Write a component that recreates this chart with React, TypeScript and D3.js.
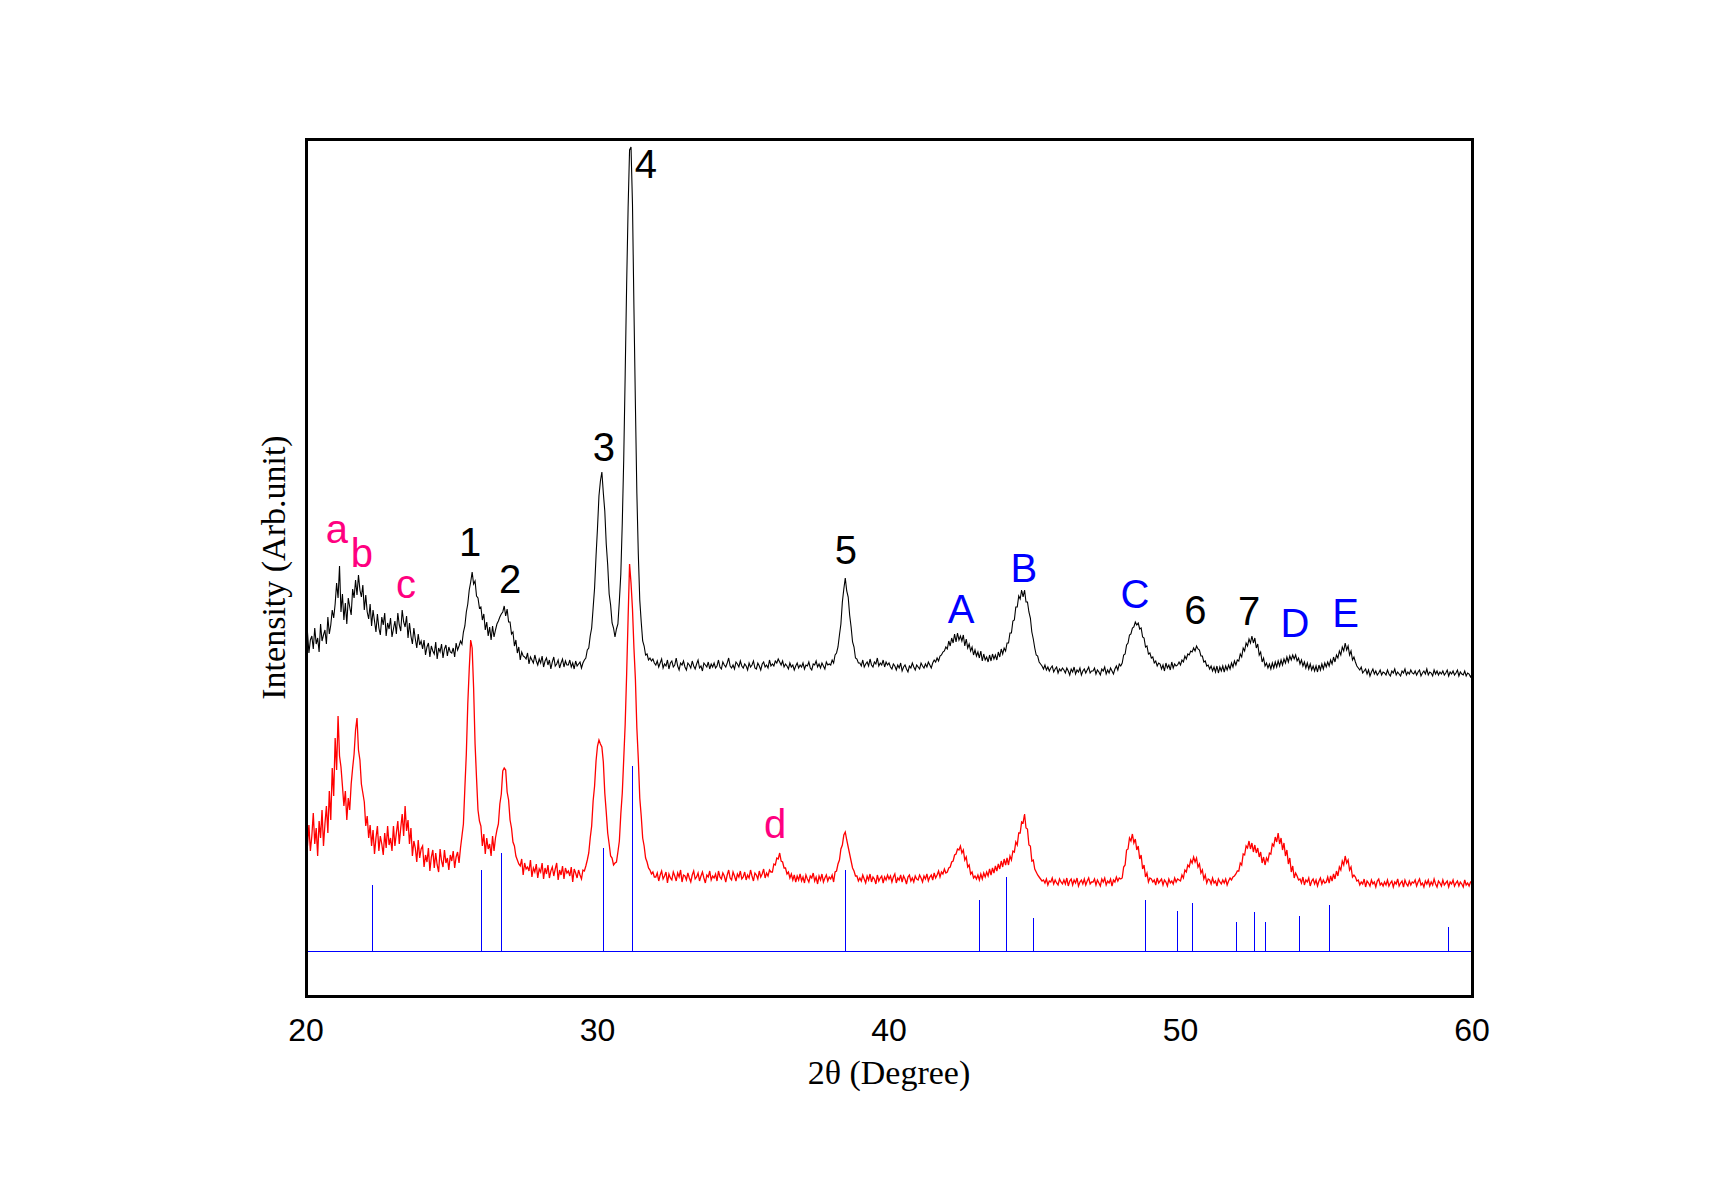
import React from 'react';
import * as d3 from 'd3';

// XRD scans, one row per degree of 2θ starting at 20°, 0.05° per sample
const ANGLE_START = 20;
const ANGLE_STEP = 0.05;

// upper scan (black)
const upperRows: number[][] = [
  [350,364,343,356,360,347,368,352,358,344,372,355,361,366,352,379,362,371,386,378],
  [392,413,398,430,384,402,376,393,372,398,389,381,407,398,416,401,421,406,399,411],
  [386,401,384,377,392,370,386,375,364,382,368,361,379,371,383,360,373,367,378,359],
  [367,375,362,383,371,365,386,374,369,380,358,373,360,352,368,357,348,362,351,355],
  [347,356,341,349,353,339,350,345,342,354,337,348,344,352,338,347,351,340,349,344],
  [343,348,339,353,346,350,355,352,364,370,384,392,406,414,424,412,415,400,398,388],
  [389,376,382,366,374,360,369,356,370,359,366,372,375,379,382,384,390,380,387,374],
  [374,362,364,350,356,343,349,336,344,340,339,337,343,332,339,336,333,341,335,331],
  [337,333,340,329,335,338,331,336,327,334,339,330,332,336,328,333,337,329,335,331],
  [331,336,329,333,327,335,330,332,334,328,333,336,338,346,348,360,368,388,408,440],
  [468,500,515,524,503,485,452,431,402,391,373,368,359,367,372,395,422,473,537,622],
  [712,788,846,849,792,688,592,503,442,396,374,355,350,341,342,336,338,335,337,333],
  [331,335,329,333,337,328,332,330,336,327,333,335,329,331,338,330,326,333,331,335],
  [329,326,333,331,328,335,330,327,332,336,328,330,325,333,331,329,334,327,332,329],
  [333,328,330,336,329,327,334,331,329,333,338,330,328,331,327,334,332,329,335,330],
  [328,332,330,326,333,329,331,335,328,327,333,330,326,332,334,329,331,328,336,330],
  [332,330,335,333,337,334,331,335,329,332,330,327,333,329,331,326,330,333,328,331],
  [329,333,327,331,330,334,328,326,332,331,335,329,332,328,333,330,327,334,331,332],
  [331,336,333,341,343,349,361,372,394,407,418,405,399,381,369,354,349,338,337,333],
  [333,330,336,329,332,334,330,337,331,329,334,332,338,330,333,331,336,329,334,331],
  [333,329,327,332,330,326,331,328,333,325,329,331,327,324,330,328,333,329,326,331],
  [329,327,333,330,328,332,329,334,331,328,333,336,334,338,335,340,341,344,345,349],
  [347,355,350,358,353,362,354,363,356,360,355,361,350,357,348,352,345,349,341,346],
  [340,344,338,345,335,342,336,339,334,341,335,342,337,341,336,344,339,347,342,348],
  [345,353,353,363,363,375,376,389,389,400,397,406,399,406,394,394,384,378,364,357],
  [348,341,340,334,332,330,327,331,326,329,325,328,330,324,327,329,323,327,325,328],
  [326,323,328,325,321,327,324,329,322,326,324,328,321,325,327,323,326,329,323,325],
  [325,328,322,326,324,321,327,325,329,322,326,323,328,325,322,327,330,326,332,330],
  [333,341,342,351,353,361,362,368,369,374,371,373,367,368,359,358,349,350,342,343],
  [338,339,333,335,330,333,332,327,331,325,333,328,331,326,334,328,332,330,331,334],
  [331,336,334,340,337,342,341,345,344,348,345,350,347,346,340,340,334,335,330,331],
  [327,330,325,329,324,330,323,329,325,330,324,330,326,331,327,333,329,335,331,336],
  [335,342,339,348,345,353,350,357,353,360,353,358,348,352,341,344,334,338,330,333],
  [328,332,327,333,328,334,329,335,330,336,331,337,333,339,334,340,336,341,337,341],
  [335,338,332,336,330,334,328,333,327,332,326,330,325,330,324,331,326,332,327,333],
  [329,334,330,336,332,339,334,341,338,345,341,349,345,353,346,350,341,345,336,339],
  [334,330,328,326,329,323,325,327,322,326,320,324,327,322,325,321,323,326,321,324],
  [323,321,326,322,320,325,323,327,321,324,322,320,325,323,327,321,324,322,326,323],
  [322,325,321,324,326,320,323,325,322,327,321,324,323,320,326,322,325,321,324,322],
  [325,321,323,326,320,324,322,325,321,323,326,320,324,322,321,325,320,323,322,319],
  [322],
];

// lower scan (red)
const lowerRows: number[][] = [
  [178,150,171,145,160,183,152,168,140,175,158,186,150,172,190,163,205,176,228,200],
  [258,226,280,240,229,210,190,205,176,198,186,212,228,242,266,278,246,236,212,203],
  [194,170,180,158,171,150,166,142,158,170,145,160,152,141,163,148,170,151,158,145],
  [170,150,163,175,152,168,182,160,190,165,176,152,168,140,155,148,134,156,138,147],
  [150,129,141,134,148,125,139,146,128,143,131,124,147,135,129,146,133,138,126,141],
  [135,145,128,139,144,133,148,160,172,208,242,292,327,356,348,308,252,218,186,175],
  [170,150,162,142,158,147,152,140,160,145,158,166,172,192,202,225,228,226,204,196],
  [176,168,154,150,140,136,132,130,137,121,133,127,129,125,136,119,128,124,132,118],
  [127,124,133,117,128,122,131,118,125,129,120,127,133,116,126,121,130,117,128,123],
  [125,120,129,114,127,123,118,126,121,117,126,125,130,136,143,158,170,195,210,235],
  [250,256,252,249,234,203,184,163,152,140,138,131,133,134,144,155,182,203,237,272],
  [322,378,432,413,387,348,317,268,237,198,180,158,150,138,134,128,126,122,124,119],
  [119,123,115,121,125,117,120,124,113,122,118,116,124,120,115,123,119,126,114,121],
  [120,116,123,118,114,121,125,117,119,123,115,120,124,118,113,121,119,125,116,120],
  [118,122,115,125,119,117,123,120,114,121,126,118,116,124,120,115,122,119,125,117],
  [119,124,116,121,118,126,120,115,123,121,117,125,119,122,127,118,123,120,126,124],
  [124,132,131,138,137,143,135,134,128,128,122,124,118,122,116,121,114,120,116,122],
  [115,119,113,121,117,114,120,118,123,115,119,112,120,116,122,114,118,121,115,119],
  [117,121,114,124,125,132,136,147,151,161,164,156,149,142,135,128,125,120,120,115],
  [118,115,121,117,113,120,116,122,114,119,117,112,121,115,118,120,113,119,116,121],
  [117,120,114,119,122,113,118,116,121,114,120,117,112,119,121,115,118,114,120,117],
  [116,121,118,114,120,117,122,115,119,121,116,123,118,121,125,119,124,122,127,123],
  [124,128,129,134,135,141,142,147,146,150,143,146,136,139,129,131,122,124,118,120],
  [117,121,116,122,117,123,119,124,120,127,121,128,123,130,125,132,127,135,129,137],
  [131,138,131,140,136,145,144,154,151,163,163,174,173,182,168,167,151,150,135,136],
  [127,124,121,119,117,115,116,113,117,111,115,114,118,112,116,113,111,117,114,112],
  [116,112,118,110,115,117,111,116,113,118,110,114,116,112,117,111,115,118,112,114],
  [114,117,111,116,113,110,117,114,118,111,115,113,117,110,116,114,119,115,118,117],
  [118,129,131,146,147,158,155,162,153,157,146,150,137,141,127,131,119,123,114,118],
  [117,114,116,111,118,113,115,117,111,116,114,110,117,113,115,112,118,114,117,116],
  [115,121,118,126,124,131,129,136,133,139,134,138,129,132,123,126,117,121,113,117],
  [116,112,118,113,115,110,117,114,112,116,113,117,111,115,118,116,119,120,122,125],
  [125,133,131,142,141,150,148,155,147,153,144,151,143,148,139,144,133,139,131,138],
  [135,143,142,152,150,159,154,163,152,158,146,153,140,146,132,138,124,130,118,123],
  [120,116,117,113,119,111,116,114,118,110,115,117,112,116,110,115,118,112,116,113],
  [114,119,113,120,115,122,117,125,120,129,126,135,131,140,133,136,126,129,119,121],
  [119,115,116,111,114,112,117,109,115,113,110,116,112,114,109,115,117,111,113,110],
  [114,111,116,110,113,115,109,114,112,117,110,113,115,109,116,112,110,115,111,114],
  [113,116,110,114,117,111,113,109,115,112,116,110,114,111,117,112,109,115,113,110],
  [116,111,113,115,109,114,112,116,110,113,115,110,114,112,109,116,111,113,110,114],
  [113],
];

// reference pattern (blue sticks), relative intensity in %
const refAngles = [22.27, 26.01, 26.7, 30.2, 31.19, 38.5, 43.1, 44.02, 44.95, 48.79, 49.89, 50.4, 51.91, 52.53, 52.91, 54.08, 55.11, 59.19];
const refIntensity = [36, 44, 53, 56, 100, 44, 28, 40, 18, 28, 22, 26, 16, 21, 16, 19, 25, 13];

// peak annotations
const peakText = ['a', 'b', 'c', '1', '2', '3', '4', '5', 'A', 'B', 'C', '6', '7', 'D', 'E', 'd'];
const peakAngle = [21.06, 21.92, 23.43, 25.63, 27.0, 30.22, 31.66, 38.52, 42.47, 44.63, 48.44, 50.51, 52.35, 53.93, 55.66, 36.09];
const peakLevel = [453, 429, 398, 440, 403, 535, 818, 432, 373, 414, 388, 372, 371, 359, 369, 158];
const peakKind = ['x', 'x', 'x', 'n', 'n', 'n', 'n', 'n', 'r', 'r', 'r', 'n', 'n', 'r', 'r', 'x'];

const xTicks = [20, 30, 40, 50, 60];

const kindColor: Record<string, string> = { x: '#ff0080', n: '#000000', r: '#0000ff' };

const W = 1710;
const H = 1194;
const plot = { left: 306, right: 1472, top: 139, bottom: 996 };
const REF_BASE = 44.7;
const REF_SPAN = 185;

const toPoints = (rows: number[][]): [number, number][] =>
  rows.flatMap((row, r) => row.map((v, j) => [ANGLE_START + r + j * ANGLE_STEP, v] as [number, number]));

export default function App() {
  const x = d3.scaleLinear().domain([20, 60]).range([plot.left, plot.right]);
  const y = d3.scaleLinear().domain([0, plot.bottom - plot.top]).range([plot.bottom, plot.top]);

  const line = d3.line<[number, number]>()
    .x(d => x(d[0]))
    .y(d => y(d[1]));

  const sans = '"Liberation Sans", Arial, sans-serif';
  const serif = '"Liberation Serif", "Times New Roman", serif';

  return (
    <svg width={W} height={H} style={{ position: 'absolute', left: 0, top: 0, background: '#fff' }}>
      <path d={line(toPoints(upperRows)) || ''} fill="none" stroke="#000" strokeWidth={1.1} />
      <path d={line(toPoints(lowerRows)) || ''} fill="none" stroke="#ff0000" strokeWidth={1.3} />

      <g stroke="#0000ff" strokeWidth={1.3} shapeRendering="crispEdges">
        <line x1={x(20)} x2={x(60)} y1={y(REF_BASE)} y2={y(REF_BASE)} />
        {refAngles.map((a, i) =>
          <line key={i} x1={x(a)} x2={x(a)} y1={y(REF_BASE)} y2={y(REF_BASE + refIntensity[i] * REF_SPAN / 100)} />
        )}
      </g>

      <rect x={plot.left} y={plot.top} width={plot.right - plot.left} height={plot.bottom - plot.top}
        fill="none" stroke="#000" strokeWidth={3} shapeRendering="crispEdges" />

      <g fontFamily={sans} fontSize={32} textAnchor="middle">
        {xTicks.map(t => <text key={t} x={x(t)} y={plot.bottom + 45}>{t}</text>)}
      </g>

      <text x={(plot.left + plot.right) / 2} y={1084} fontFamily={serif} fontSize={34} textAnchor="middle">2θ (Degree)</text>
      <text transform={`translate(285, ${(plot.top + plot.bottom) / 2}) rotate(-90)`} fontFamily={serif} fontSize={34} textAnchor="middle">Intensity (Arb.unit)</text>

      <g fontFamily={sans} fontSize={40} textAnchor="middle">
        {peakText.map((t, i) =>
          <text key={i} x={x(peakAngle[i])} y={y(peakLevel[i])} fill={kindColor[peakKind[i]]}>{t}</text>
        )}
      </g>
    </svg>
  );
}
